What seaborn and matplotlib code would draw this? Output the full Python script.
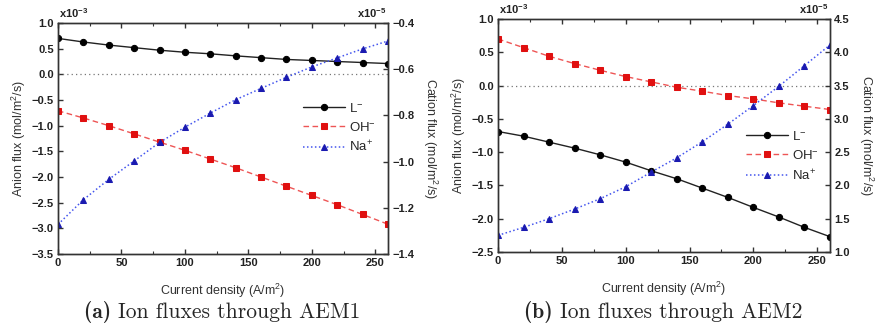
import matplotlib
matplotlib.use("Agg")
import matplotlib.pyplot as plt
from matplotlib.ticker import MultipleLocator
import seaborn as sns
import pandas as pd

# ---------------- data ----------------
current = [0, 20, 40, 60, 80, 100, 120, 140, 160, 180, 200, 220, 240, 260]

# AEM1 (anion flux x1e-3, cation flux x1e-5)
a_L = [0.70, 0.63, 0.57, 0.52, 0.47, 0.43, 0.40, 0.36, 0.325, 0.29, 0.27, 0.25, 0.23, 0.21]
a_OH = [-0.71, -0.85, -1.00, -1.16, -1.32, -1.48, -1.65, -1.82, -2.00, -2.18, -2.36, -2.54, -2.73, -2.92]
a_Na = [-1.272, -1.165, -1.077, -0.997, -0.917, -0.851, -0.790, -0.732, -0.683, -0.635, -0.590, -0.551, -0.512, -0.478]

# AEM2
b_L = [-0.69, -0.76, -0.85, -0.94, -1.04, -1.15, -1.28, -1.40, -1.54, -1.68, -1.83, -1.975, -2.13, -2.27]
b_OH = [0.70, 0.57, 0.44, 0.33, 0.23, 0.135, 0.055, -0.025, -0.085, -0.15, -0.20, -0.26, -0.31, -0.36]
b_Na = [1.25, 1.37, 1.50, 1.645, 1.80, 1.98, 2.20, 2.415, 2.656, 2.92, 3.20, 3.49, 3.80, 4.11]

labels = ["L$^{-}$", "OH$^{-}$", "Na$^{+}$"]
captions = [("(a)", "Ion fluxes through AEM1"), ("(b)", "Ion fluxes through AEM2")]

# ---------------- style ----------------
sns.set_style("ticks")
plt.rcParams["font.family"] = ["Liberation Sans", "DejaVu Sans"]
plt.rcParams["mathtext.default"] = "regular"
plt.rcParams["axes.linewidth"] = 1.0

fig = plt.figure(figsize=(8.77, 3.29), dpi=100)

W, H = 877, 329
boxes = [(58, 23, 388, 254), (498, 19, 830, 252)]
left_lims = [(-3.5, 1.0), (-2.5, 1.0)]
right_lims = [(-1.4, -0.4), (1.0, 4.5)]
right_step = [0.2, 0.5]
legend_pos = [(0.715, 0.545), (0.72, 0.41)]
caption_split = [118, 560]

datasets = [(a_L, a_OH, a_Na), (b_L, b_OH, b_Na)]

for i, (L, OH, Na) in enumerate(datasets):
    x0, y0, x1, y1 = boxes[i]
    ax = fig.add_axes([x0 / W, 1 - y1 / H, (x1 - x0) / W, (y1 - y0) / H])
    ax2 = ax.twinx()

    dfL = pd.DataFrame({"x": current, "y": L})
    dfO = pd.DataFrame({"x": current, "y": OH})
    dfN = pd.DataFrame({"x": current, "y": Na})

    ax.axhline(0, color="#777777", lw=0.9, ls=(0, (1, 2.5)), zorder=1)

    sns.lineplot(data=dfL, x="x", y="y", ax=ax, color="#222222", lw=1.0,
                 marker="o", markersize=4.5, markeredgecolor="black",
                 markerfacecolor="black", label=labels[0])
    sns.lineplot(data=dfO, x="x", y="y", ax=ax, color="#ee5555", lw=1.0,
                 linestyle=(0, (4, 2.5)), marker="s", markersize=4.3,
                 markerfacecolor="#e01010", markeredgecolor="#e01010", label=labels[1])
    sns.lineplot(data=dfN, x="x", y="y", ax=ax2, color="#4455ee", lw=1.1,
                 linestyle=(0, (1, 1.6)), marker="^", markersize=5,
                 markerfacecolor="#1a1ab0", markeredgecolor="#1a1ab0", label=labels[2])

    ax.set_xlim(0, 260)
    ax.set_ylim(*left_lims[i])
    ax2.set_ylim(*right_lims[i])
    ax.xaxis.set_major_locator(MultipleLocator(50))
    ax.xaxis.set_minor_locator(MultipleLocator(25))
    ax.yaxis.set_major_locator(MultipleLocator(0.5))
    ax2.yaxis.set_major_locator(MultipleLocator(right_step[i]))

    ax.tick_params(axis="both", which="major", direction="in", top=True, length=3.5,
                   width=1, color="#333333", pad=3)
    ax.tick_params(axis="x", which="minor", direction="in", top=True, bottom=True,
                   length=2, width=0.8, color="#333333")
    ax2.tick_params(axis="y", direction="in", length=3.5, width=1, color="#333333", pad=3)

    for lab in ax.get_xticklabels() + ax.get_yticklabels() + ax2.get_yticklabels():
        lab.set_fontsize(8)
        lab.set_fontweight("bold")
        lab.set_color("#222222")

    ax.set_xlabel("Current density (A/m$^{2}$)", fontsize=9, color="#333333", labelpad=10)
    ax.set_ylabel("Anion flux (mol/m$^{2}$/s)", fontsize=9, color="#333333", labelpad=3)
    ax2.set_ylabel("Cation flux (mol/m$^{2}$/s)", fontsize=9, color="#333333",
                   rotation=270, labelpad=18)

    ax.annotate("x10$^{-3}$", xy=(0.0, 1.0), xycoords="axes fraction",
                xytext=(1, 2.5), textcoords="offset points", ha="left", va="bottom",
                fontsize=8, fontweight="bold", color="#222222")
    ax.annotate("x10$^{-5}$", xy=(1.0, 1.0), xycoords="axes fraction",
                xytext=(-1, 2.5), textcoords="offset points", ha="right", va="bottom",
                fontsize=8, fontweight="bold", color="#222222")

    h1, l1 = ax.get_legend_handles_labels()
    h2, l2 = ax2.get_legend_handles_labels()
    if ax2.get_legend():
        ax2.get_legend().remove()
    ax.legend(h1 + h2, l1 + l2, loc="center left", bbox_to_anchor=legend_pos[i],
              frameon=False, fontsize=9.5, handlelength=3.2, handletextpad=0.3,
              labelspacing=0.45, borderpad=0.2)

    for sp in list(ax.spines.values()) + list(ax2.spines.values()):
        sp.set_color("#333333")
        sp.set_visible(True)

    # caption
    cx = caption_split[i] / W
    fig.text(cx, 1 - 318 / H, captions[i][0] + " ", ha="right", va="baseline",
             fontsize=15.5, family="cmb10")
    fig.text(cx, 1 - 318 / H, captions[i][1], ha="left", va="baseline",
             fontsize=15.5, family="cmr10")

fig.savefig("out.png", dpi=100)
